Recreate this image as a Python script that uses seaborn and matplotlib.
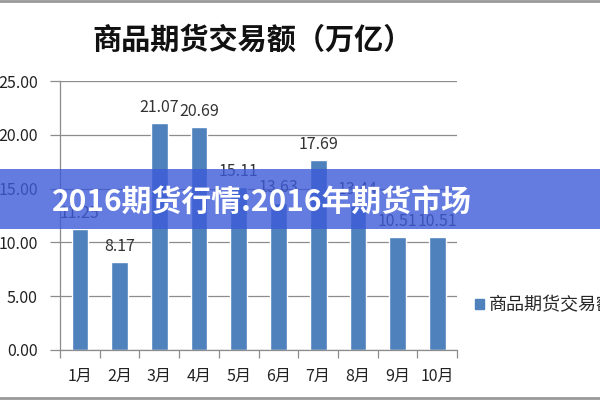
import matplotlib
matplotlib.use('Agg')
import matplotlib.pyplot as plt
import pandas as pd
import seaborn as sns
from matplotlib.patches import Rectangle
from matplotlib.lines import Line2D

months = ['1月', '2月', '3月', '4月', '5月', '6月', '7月', '8月', '9月', '10月']
amounts = [11.25, 8.17, 21.07, 20.69, 15.11, 13.63, 17.69, 13.44, 10.51, 10.51]
series_name = '商品期货交易额'
title = '商品期货交易额（万亿）'
banner = '2016期货行情:2016年期货市场'

sns.set_theme(style='white')
plt.rcParams['font.family'] = ['Noto Sans CJK SC', 'DejaVu Sans']

df = pd.DataFrame({'month': months, 'amount': amounts, 'series': series_name})

fig = plt.figure(figsize=(6, 4), dpi=100)
ax = fig.add_axes([0.1, 0.125, 0.662, 0.6725])

bar_color = '#4f81bd'
sns.barplot(data=df, x='month', y='amount', hue='series', palette=[bar_color],
            width=0.42, ax=ax, saturation=1, legend=False)

ax.set_ylim(0, 25)
ax.set_yticks([0, 5, 10, 15, 20, 25])
ax.set_yticklabels(['%.2f' % v for v in [0, 5, 10, 15, 20, 25]], fontsize=11.5, color='#222222')
ax.set_xlim(-0.5, len(months) - 0.5)
ax.set_xticks(range(len(months)))
ax.set_xticklabels(months, fontsize=11.5, color='#222222')
ax.set_xlabel('')
ax.set_ylabel('')
ax.grid(axis='y', color='#8c8c8c', linewidth=0.9)
ax.set_axisbelow(True)
for side in ['top', 'right']:
    ax.spines[side].set_visible(False)
for side in ['left', 'bottom']:
    ax.spines[side].set_color('#8c8c8c')
    ax.spines[side].set_linewidth(0.9)

# y ticks outward, x ticks at category boundaries
ax.tick_params(axis='y', length=7, width=0.9, color='#8c8c8c', pad=9, left=True, direction='out')
ax.tick_params(axis='x', length=0, pad=13)
ax.set_xticks([i - 0.5 for i in range(len(months) + 1)], minor=True)
ax.tick_params(axis='x', which='minor', length=6, width=0.9, color='#8c8c8c', bottom=True, direction='out')

for cont in ax.containers:
    ax.bar_label(cont, labels=['%.2f' % v for v in amounts], padding=5,
                 fontsize=11.5, color='#333333')

fig.text(0.421, 0.9, title, ha='center', va='center', fontsize=21,
         fontweight='bold', color='#111111')

# legend
ax.legend(handles=[Rectangle((0, 0), 1, 1, color=bar_color)], labels=[series_name],
          loc='center left', bbox_to_anchor=(1.0, 0.165), frameon=False,
          fontsize=13, handlelength=0.5, handleheight=0.5, handletextpad=0.25,
          borderaxespad=0.6)

# frame lines top and bottom
fig.add_artist(Line2D([0, 1], [0.997, 0.997], color='#999999', linewidth=2))
fig.add_artist(Line2D([0, 1], [0.004, 0.004], color='#999999', linewidth=2))

# overlay banner
fig.add_artist(Rectangle((0, 0.4275), 1, 0.15, transform=fig.transFigure,
                         facecolor='#3d5bd9', alpha=0.8, edgecolor='none', zorder=10))
fig.text(0.436, 0.4925, banner, ha='center', va='center', fontsize=21.5,
         fontweight='bold', color='white', zorder=11)

fig.savefig('out.png', dpi=100)
